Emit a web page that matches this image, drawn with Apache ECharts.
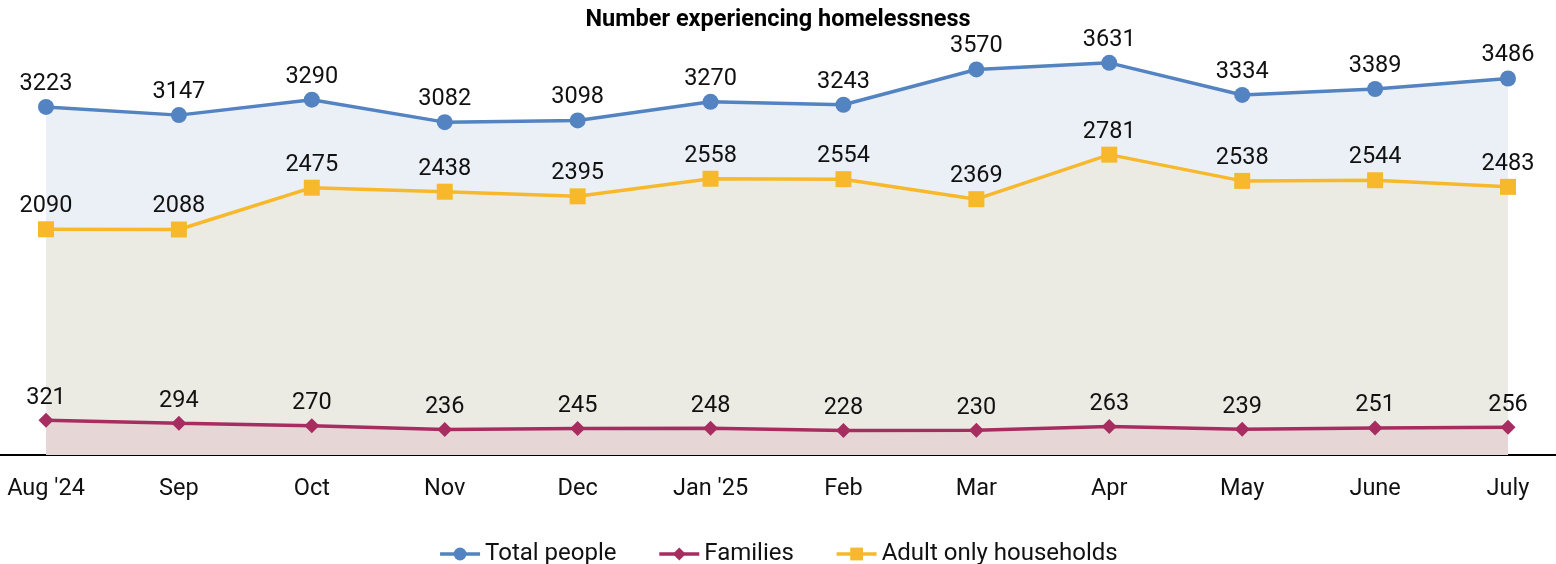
<!DOCTYPE html>
<html>
<head>
<meta charset="utf-8">
<script src="https://cdn.jsdelivr.net/npm/echarts@6/dist/echarts.min.js"></script>
<style>html,body{margin:0;padding:0;background:#fff;}#c{width:1556px;height:564px;}</style>
</head>
<body>
<div id="c"></div>
<script>
const categories = ["Aug '24","Sep","Oct","Nov","Dec","Jan '25","Feb","Mar","Apr","May","June","July"];
const totalPeople = [3223,3147,3290,3082,3098,3270,3243,3570,3631,3334,3389,3486];
const families = [321,294,270,236,245,248,228,230,263,239,251,256];
const adultOnly = [2090,2088,2475,2438,2395,2558,2554,2369,2781,2538,2544,2483];

const chart = echarts.init(document.getElementById('c'));
const font = 'Roboto';
const lbl = {show:true, position:'top', distance:3, color:'#111', fontSize:23.5, fontFamily:font};
chart.setOption({
  animation:false,
  title:{text:'Number experiencing homelessness', left:'center', top:3,
    textStyle:{fontFamily:font, fontWeight:'bold', fontSize:23.5, color:'#000'}},
  legend:{top:537, left:'center', itemWidth:40, itemHeight:16, itemGap:41,
    lineStyle:{width:3.5},
    textStyle:{fontFamily:font, fontSize:24, color:'#111'},
    data:['Total people','Families','Adult only households']},
  grid:[
    {left:46, right:48, top:23, bottom:109, containLabel:false},
    {left:0, right:0, top:23, bottom:109, containLabel:false}
  ],
  xAxis:[
    {type:'category', data:categories, boundaryGap:false, gridIndex:0,
     axisLine:{show:false}, axisTick:{show:false},
     axisLabel:{margin:22, color:'#111', fontSize:23.5, fontFamily:font}},
    {type:'category', data:[''], gridIndex:1, axisLine:{show:true, lineStyle:{color:'#000', width:2}},
     axisTick:{show:false}, axisLabel:{show:false}}
  ],
  yAxis:[
    {type:'value', min:0, max:4000, gridIndex:0, show:false, splitLine:{show:false}},
    {type:'value', min:0, max:4000, gridIndex:1, show:false, splitLine:{show:false}}
  ],
  series:[
    {name:'Total people', type:'line', data:totalPeople, z:2, symbol:'circle', symbolSize:16,
     itemStyle:{color:'#5383c1'}, lineStyle:{color:'#5383c1', width:3.5},
     areaStyle:{color:'#ebf0f7', opacity:1}, label:lbl},
    {name:'Adult only households', type:'line', data:adultOnly, z:3, symbol:'rect', symbolSize:16,
     itemStyle:{color:'#f7b92b'}, lineStyle:{color:'#f7b92b', width:3.5},
     areaStyle:{color:'#ebebe3', opacity:1}, label:lbl},
    {name:'Families', type:'line', data:families, z:4, symbol:'diamond', symbolSize:15,
     itemStyle:{color:'#a72d60'}, lineStyle:{color:'#a72d60', width:3.5},
     areaStyle:{color:'#e6d7d6', opacity:1}, label:lbl}
  ]
});
</script>
</body>
</html>
